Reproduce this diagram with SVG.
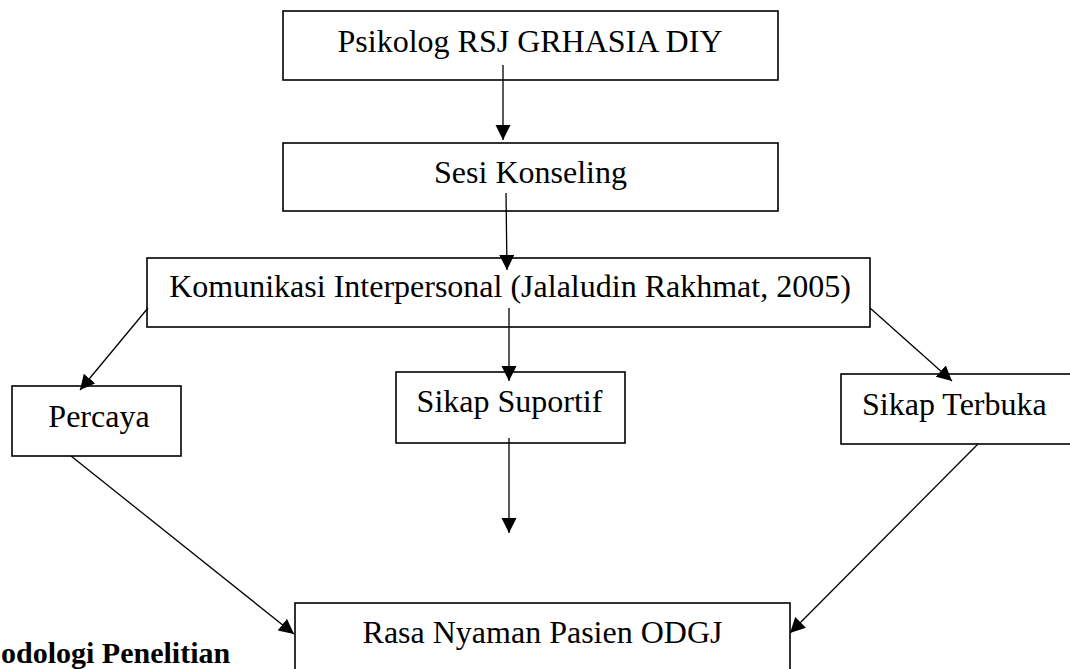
<svg xmlns="http://www.w3.org/2000/svg" width="1070" height="669" viewBox="0 0 1070 669">
<style>
.box{fill:#fff;stroke:#000;stroke-width:1.6}
.lbl{font-family:"Liberation Serif","Times New Roman",serif;font-size:32px;fill:#000}
.edge{stroke:#000;stroke-width:1.3;fill:none;marker-end:url(#ah)}
.title{font-family:"Liberation Serif","Times New Roman",serif;font-size:30px;font-weight:bold;fill:#000}
</style>
<defs>
<marker id="ah" markerUnits="userSpaceOnUse" markerWidth="16" markerHeight="16" refX="15" refY="7.5" orient="auto">
<path d="M0,0 L15,7.5 L0,15 z" fill="#000"/>
</marker>
</defs>
<rect width="1070" height="669" fill="#fff"/>
<g id="psikolog"><rect class="box" x="283" y="11" width="495" height="69"/><text class="lbl" x="530" y="52" text-anchor="middle">Psikolog RSJ GRHASIA DIY</text></g>
<g id="sesi"><rect class="box" x="283" y="143" width="495" height="68"/><text class="lbl" x="530.5" y="183" text-anchor="middle">Sesi Konseling</text></g>
<g id="komunikasi"><rect class="box" x="147" y="258" width="723" height="69"/><text class="lbl" x="510" y="297" text-anchor="middle">Komunikasi Interpersonal (Jalaludin Rakhmat, 2005)</text></g>
<g id="percaya"><rect class="box" x="12" y="386" width="169" height="70"/><text class="lbl" x="99" y="427" text-anchor="middle">Percaya</text></g>
<g id="suportif"><rect class="box" x="396" y="372" width="229" height="71"/><text class="lbl" x="509.5" y="412" text-anchor="middle">Sikap Suportif</text></g>
<g id="terbuka"><rect class="box" x="841" y="374" width="240" height="70"/><text class="lbl" x="862" y="415">Sikap Terbuka</text></g>
<g id="rasa"><rect class="box" x="295" y="603" width="495" height="80"/><text class="lbl" x="542.5" y="643" text-anchor="middle">Rasa Nyaman Pasien ODGJ</text></g>
<text class="title" x="1" y="663">odologi Penelitian</text>
<g id="connectors">
<line class="edge" x1="503" y1="65" x2="503" y2="140"/>
<line class="edge" x1="506" y1="193" x2="507" y2="270"/>
<line class="edge" x1="148" y1="308" x2="80" y2="390"/>
<line class="edge" x1="509" y1="308" x2="509" y2="381"/>
<line class="edge" x1="870" y1="308" x2="952" y2="381"/>
<line class="edge" x1="71" y1="456" x2="294" y2="634"/>
<line class="edge" x1="509" y1="438" x2="509" y2="533"/>
<line class="edge" x1="978" y1="444" x2="790" y2="633"/>
</g>
</svg>
